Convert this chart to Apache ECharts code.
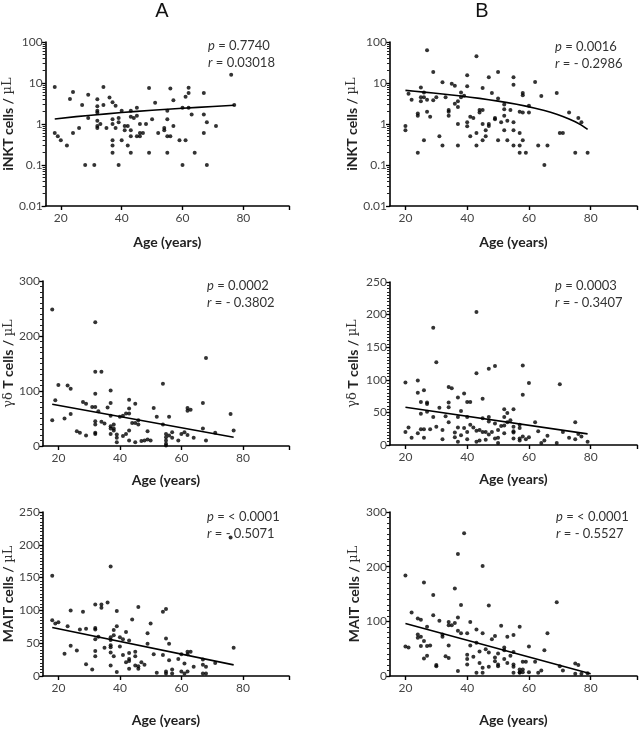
<!DOCTYPE html>
<html><head><meta charset="utf-8">
<script src="https://cdn.jsdelivr.net/npm/echarts@6/dist/echarts.min.js"></script>
<style>html,body{margin:0;padding:0;background:#fff}#c{width:640px;height:729px}</style>
</head><body><div id="c"></div>
<script>
// ---------- Panel A1: iNKT (log) ----------
const ageA1 = [18,18,19,20,22,23,24,24,26,27,28,29,29,31,32,32,32,32,32,32,32,33,34,34,35,36,37,37,37,37,37,37,38,38,39,39,39,40,40,41,41,42,42,43,43,43,43,43,44,45,45,45,46,46,46,47,48,49,49,50,51,52,54,54,55,55,55,55,56,56,57,57,59,60,60,61,61,62,62,62,63,64,67,67,67,68,68,71,76,77];
const inktA1 = [8.0,0.6,0.5,0.4,0.3,4.1,6.0,0.6,0.8,2.9,0.1,5.2,1.4,0.1,4.0,2.7,2.1,1.9,1.2,0.9,0.8,1.0,8.0,2.9,0.8,4.4,3.4,1.3,1.0,0.4,0.3,0.2,2.8,0.8,1.4,1.1,0.1,2.1,0.4,0.9,0.7,0.9,0.3,2.1,1.5,0.7,0.5,0.2,1.4,2.5,1.6,0.5,1.0,0.5,0.6,0.6,1.0,7.5,0.2,1.3,3.3,0.6,0.8,0.7,2.1,1.3,0.5,0.2,0.5,7.3,3.8,0.9,0.4,2.5,0.1,4.6,0.4,7.7,5.7,2.5,1.7,0.2,5.7,1.7,0.6,1.1,0.1,0.9,16,2.9];
const fitA1 = [[18,1.33],[25,1.51],[30,1.64],[35,1.77],[40,1.9],[45,2.03],[50,2.16],[55,2.29],[60,2.42],[65,2.55],[70,2.68],[77,2.86]];

// ---------- Panel B1: iNKT (log) ----------
const ageB1 = [20,20,21,22,24,24,24,25,25,25,26,26,26,27,27,27,28,29,29,30,31,32,32,33,34,34,34,35,36,36,37,37,37,37,38,38,39,40,40,40,40,41,41,42,43,43,43,44,44,45,45,45,45,46,46,47,47,47,48,49,49,50,50,50,51,52,52,52,52,53,53,54,55,55,55,55,55,57,57,57,57,58,58,58,58,59,60,60,62,63,64,65,66,69,70,71,73,75,76,77,79];
const inktB1 = [0.9,0.7,5.5,3.9,1.8,1.6,0.2,7.8,4.5,3.6,5.9,4.5,0.4,63,3.9,2.0,1.5,18.6,3.8,4.5,0.5,10.4,0.3,4.5,2.2,2.0,1.6,9.6,8.6,3.1,3.6,2.6,1.0,0.3,5.9,4.5,4.9,15.4,8.3,1.1,0.88,1.5,0.5,1.4,45,0.6,0.3,2.2,1.9,7.6,2.2,1.0,0.4,0.7,0.5,13.8,1.0,0.9,5.7,1.4,1.3,18.6,4.2,0.4,1.1,3.0,2.3,1.6,0.7,1.2,0.4,2.2,13.8,9.1,1.1,0.7,0.3,2.0,0.6,0.3,0.2,5.7,5.0,1.9,0.4,0.2,2.8,1.9,10.6,0.3,4.8,0.1,0.3,5.7,0.6,0.6,1.9,0.2,1.4,1.1,0.2];
const fitB1 = [[20,6.6],[23,6.3],[26,6.0],[29,5.71],[32,5.41],[35,5.11],[38,4.81],[41,4.51],[44,4.22],[47,3.92],[50,3.62],[53,3.32],[56,3.02],[59,2.73],[62,2.43],[65,2.13],[67,1.93],[69,1.73],[71,1.53],[73,1.33],[75,1.13],[77,0.94],[79,0.74]];

// ---------- Panel A2: gamma-delta T ----------
const ageA2 = [18,18,19,20,22,23,24,24,26,27,28,29,29,31,32,32,32,32,32,32,32,32,33,34,34,35,36,37,37,37,37,37,37,38,38,38,39,39,39,40,41,41,42,42,43,43,43,43,43,44,45,45,45,46,46,47,48,49,49,50,51,52,54,54,55,55,55,55,55,56,56,57,57,59,60,61,62,62,62,63,64,67,67,68,68,71,76,77];
const gdA2 = [248,47,83,111,50,110,104,58,27,24,80,77,19,71,225,135,95,71,45,39,24,22,63,135,44,41,70,101,78,55,36,32,22,39,32,28,21,15,7,53,55,18,59,22,84,68,59,28,10,42,77,42,7,47,39,9,10,27,12,10,69,53,113,39,22,16,10,4,1,53,19,25,15,10,22,25,69,64,20,66,15,78,32,160,10,24,58,28];
const fitA2 = [[18,76],[77,16]];

// ---------- Panel B2: gamma-delta T ----------
const ageB2 = [20,20,21,22,24,24,24,25,25,25,26,26,26,27,27,27,28,29,29,30,30,31,32,32,33,34,34,34,34,35,36,36,37,37,37,37,38,38,39,39,40,40,40,40,41,41,42,43,43,43,43,44,44,45,45,45,46,46,47,47,47,47,48,49,49,49,50,50,50,51,52,52,52,52,53,53,54,55,55,55,55,55,57,57,57,57,58,58,58,59,60,60,62,63,64,65,66,69,70,71,73,75,75,76,77,79];
const gdB2 = [96,20,27,11,99,80,18,66,48,24,84,24,11,65,63,51,24,180,43,127,28,57,23,9,44,89,65,58,35,87,19,12,73,43,27,5,52,15,79,26,66,43,20,9,66,31,27,204,110,22,5,23,7,71,41,20,20,8,117,43,36,16,20,121,33,10,23,11,3,29,55,43,18,30,49,35,38,55,28,21,19,10,31,26,10,7,122,77,13,9,95,12,35,21,3,7,14,3,93,20,11,35,9,17,13,5];
const fitB2 = [[20,58],[79,17]];

// ---------- Panel A3: MAIT ----------
const ageA3 = [18,18,19,20,22,23,24,24,26,27,28,29,29,31,32,32,32,32,32,32,33,34,34,35,36,37,37,37,37,37,37,37,38,38,38,39,39,39,40,40,41,41,42,42,43,43,43,43,43,44,45,45,45,46,46,46,47,48,49,49,50,51,52,54,54,55,55,55,55,56,56,57,57,59,60,60,61,61,62,62,62,63,64,67,67,67,68,68,71,76,77];
const maitA3 = [153,85,80,82,34,76,100,46,39,71,98,72,18,10,109,73,71,56,38,30,60,109,104,43,112,167,59,55,47,44,36,16,70,62,30,99,76,6,59,45,56,32,67,21,54,35,26,23,11,86,37,30,16,105,15,11,21,17,65,49,80,33,5,98,32,102,57,7,4,49,24,10,4,26,33,7,19,4,37,33,7,37,14,25,17,4,14,4,20,211,43];
const fitA3 = [[18,74],[77,17]];

// ---------- Panel B3: MAIT ----------
const ageB3 = [20,20,21,22,24,24,24,25,25,25,26,26,26,27,27,27,28,29,29,30,30,31,32,32,33,34,34,34,34,35,36,36,37,37,37,37,38,38,39,40,40,40,40,41,41,42,43,43,43,44,44,45,45,45,45,46,47,47,47,48,49,49,49,50,50,50,51,52,52,52,53,53,54,55,55,55,55,55,57,57,57,57,58,58,58,59,60,60,62,63,64,65,66,69,70,71,75,75,76,77,79];
const maitB3 = [184,54,52,116,105,76,70,103,72,55,171,64,32,90,55,37,56,148,111,20,18,101,76,72,36,99,93,56,33,93,160,97,223,107,83,9,130,78,261,78,39,31,21,99,56,35,85,61,6,45,24,201,78,15,6,49,129,43,17,67,73,34,27,41,21,18,92,52,47,31,72,24,37,75,44,21,17,6,90,12,7,6,26,12,7,26,54,7,26,6,10,47,78,135,18,10,23,4,20,4,5];
const fitB3 = [[20,96],[80,4]];

// ---------- labels ----------
const xTickLabels = [20, 40, 60, 80];
const xTickMarks = [20, 40, 60, 80, 95];
const statsText = [
  ['0.7740', '0.03018'],
  ['0.0016', '- 0.2986'],
  ['0.0002', '- 0.3802'],
  ['0.0003', '- 0.3407'],
  ['< 0.0001', '- 0.5071'],
  ['< 0.0001', '- 0.5527']
];
const yNames = [
  'iNKT cells / {n|µL}', 'iNKT cells / {n|µL}',
  '{n|γδ} T cells / {n|µL}', '{n|γδ} T cells / {n|µL}',
  'MAIT cells / {n|µL}', 'MAIT cells / {n|µL}'
];
const panelTitles = ['A', 'B'];

const FONT = 'Lato, "Open Sans", sans-serif';
const grids = [
  {left: 43, top: 42, width: 246, height: 164},
  {left: 390, top: 42, width: 247, height: 164},
  {left: 43, top: 281, width: 246, height: 165},
  {left: 390, top: 282, width: 247, height: 163},
  {left: 43, top: 512, width: 246, height: 164},
  {left: 390, top: 512, width: 247, height: 164}
];
const xNameGap = [29, 29, 27, 27, 37, 37];
const yNameGap = [27, 31, 27, 30, 27, 29];
const yScales = [
  {type: 'log', min: 0.01, max: 100, logBase: 10},
  {type: 'log', min: 0.01, max: 100, logBase: 10},
  {type: 'value', min: 0, max: 300, interval: 100},
  {type: 'value', min: 0, max: 250, interval: 50},
  {type: 'value', min: 0, max: 250, interval: 50},
  {type: 'value', min: 0, max: 300, interval: 100}
];
const scatterData = [
  [ageA1, inktA1], [ageB1, inktB1], [ageA2, gdA2], [ageB2, gdB2], [ageA3, maitA3], [ageB3, maitB3]
];
const fits = [fitA1, fitB1, fitA2, fitB2, fitA3, fitB3];
const statPos = [[208, 45], [555, 46], [207, 285], [555, 285], [207, 516], [556, 516]];

const axisLineStyle = {color: '#000', width: 1.6};
const xAxes = [], yAxes = [], series = [], graphics = [];
for (let i = 0; i < 6; i++) {
  xAxes.push({
    gridIndex: i, type: 'value', min: 15, max: 95,
    name: 'Age (years)', nameLocation: 'middle', nameGap: xNameGap[i],
    nameTextStyle: {fontFamily: FONT, fontWeight: 'bold', fontSize: 14, color: '#222'},
    axisLine: {show: true, onZero: false, lineStyle: axisLineStyle},
    axisTick: {show: true, length: 4, lineStyle: {color: '#000', width: 1.4}, customValues: xTickMarks},
    axisLabel: {fontFamily: FONT, fontSize: 12, color: '#444', margin: 6, customValues: xTickLabels},
    splitLine: {show: false}
  });
  const ys = yScales[i];
  const isLog = ys.type === 'log';
  yAxes.push(Object.assign({
    gridIndex: i,
    name: yNames[i], nameLocation: 'middle', nameGap: yNameGap[i],
    nameTextStyle: {fontFamily: FONT, fontWeight: 'bold', fontSize: 14, color: '#222',
      rich: {n: {fontFamily: '"DejaVu Serif", serif', fontWeight: 'normal', fontSize: 13, color: '#333'}}},
    axisLine: {show: true, onZero: false, lineStyle: axisLineStyle},
    axisTick: {show: true, length: 4, lineStyle: {color: '#000', width: 1.3}},
    minorTick: {show: true, length: 3, splitNumber: isLog ? 9 : 10, lineStyle: {color: '#222', width: 1}},
    axisLabel: {fontFamily: FONT, fontSize: 12, color: '#444', margin: 3,
      formatter: isLog ? (v) => String(+v.toPrecision(2)) : null},
    splitLine: {show: false}
  }, ys));
  const [ages, vals] = scatterData[i];
  series.push({
    type: 'scatter', xAxisIndex: i, yAxisIndex: i, symbol: 'circle', symbolSize: 4,
    itemStyle: {color: '#000'}, silent: true,
    data: ages.map((a, k) => [a, vals[k]])
  });
  series.push({
    type: 'line', xAxisIndex: i, yAxisIndex: i, showSymbol: false, smooth: false,
    lineStyle: {color: '#000', width: 1.6}, silent: true,
    data: fits[i]
  });
  graphics.push({
    type: 'text', left: statPos[i][0], top: statPos[i][1] - 8,
    style: {
      text: '{i|p} = ' + statsText[i][0] + '\n{i|r} = ' + statsText[i][1],
      fontFamily: FONT, fontSize: 13, lineHeight: 17.5, fill: '#333',
      rich: {i: {fontStyle: 'italic', fontFamily: FONT, fontSize: 13, fill: '#333', lineHeight: 17.5}}
    }
  });
}
graphics.push({type: 'text', x: 162, y: 11, style: {text: panelTitles[0], fontFamily: '"Liberation Sans", Arial, sans-serif', fontSize: 20, fill: '#111', align: 'center', verticalAlign: 'middle'}});
graphics.push({type: 'text', x: 482, y: 11, style: {text: panelTitles[1], fontFamily: '"Liberation Sans", Arial, sans-serif', fontSize: 20, fill: '#111', align: 'center', verticalAlign: 'middle'}});

const chart = echarts.init(document.getElementById('c'), null, {renderer: 'canvas'});
chart.setOption({
  animation: false,
  backgroundColor: '#fff',
  grid: grids.map(g => Object.assign({containLabel: false}, g)),
  xAxis: xAxes, yAxis: yAxes, series: series, graphic: graphics
});
</script>
</body></html>
